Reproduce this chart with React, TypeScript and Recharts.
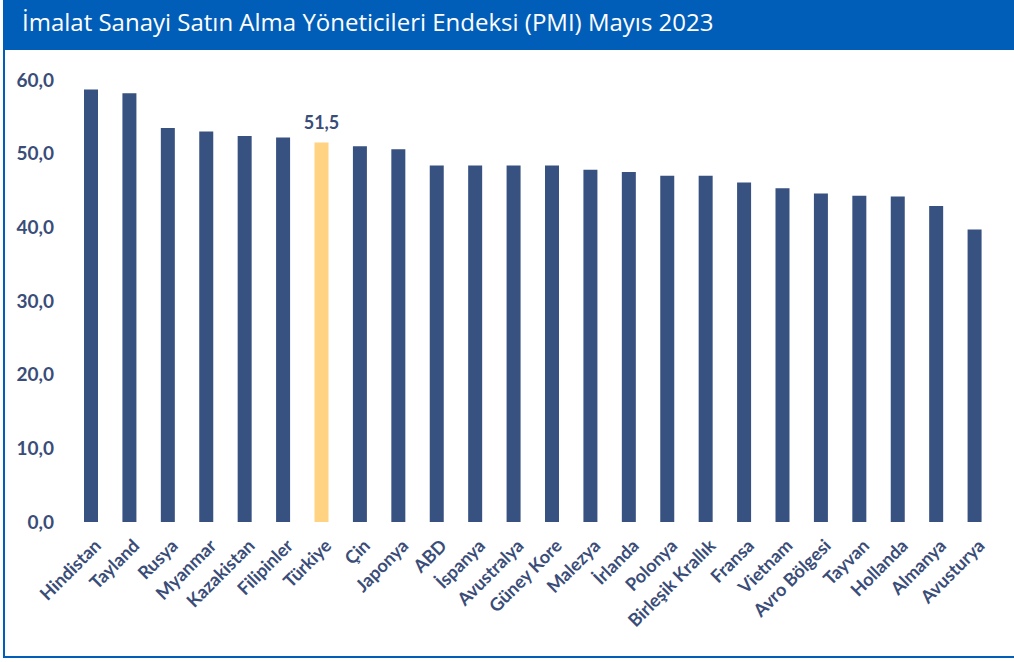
import { BarChart, Bar, XAxis, YAxis, Cell, LabelList } from "recharts";

const countries = [
  "Hindistan", "Tayland", "Rusya", "Myanmar", "Kazakistan", "Filipinler", "Türkiye", "Çin",
  "Japonya", "ABD", "İspanya", "Avustralya", "Güney Kore", "Malezya", "İrlanda", "Polonya",
  "Birleşik Krallık", "Fransa", "Vietnam", "Avro Bölgesi", "Tayvan", "Hollanda", "Almanya", "Avusturya",
];
const pmi = [
  58.7, 58.2, 53.5, 53.0, 52.4, 52.2, 51.5, 51.0,
  50.6, 48.4, 48.4, 48.4, 48.4, 47.8, 47.5, 47.0,
  47.0, 46.1, 45.3, 44.6, 44.3, 44.2, 42.9, 39.7,
];
const yTicks = [0, 10, 20, 30, 40, 50, 60];

const highlight = "Türkiye";
const navy = "#375180";
const gold = "#FFD382";
const textColor = "#3a4d78";

const data = countries.map((name, i) => ({ name, value: pmi[i] }));

const fmt = (v: number) => v.toFixed(1).replace(".", ",");

const CountryTick = (props: any) => {
  const { x, y, payload } = props;
  return (
    <g transform={`translate(${x + 6},${y + 12})`}>
      <text
        transform="rotate(-45)"
        textAnchor="end"
        dominantBaseline="central"
        fill={textColor}
        fontSize={18}
        fontWeight={700}
        fontFamily="Lato, sans-serif"
      >
        {payload.value}
      </text>
    </g>
  );
};

const TurkeyLabel = (props: any) => {
  const { x, y, width, value, index } = props;
  if (countries[index] !== highlight) return null;
  return (
    <text
      x={x + width / 2}
      y={y - 14}
      textAnchor="middle"
      fill={textColor}
      fontSize={18}
      fontWeight={700}
      fontFamily="Lato, sans-serif"
    >
      {fmt(value)}
    </text>
  );
};

export default function App() {
  return (
    <div style={{ position: "absolute", left: 0, top: 0, width: 1014, height: 662, background: "#fff" }}>
      <div
        style={{
          position: "absolute",
          left: 3,
          top: 0,
          width: 1011,
          height: 50,
          background: "#005EB8",
          color: "#fff",
          fontFamily: "'Open Sans', sans-serif",
          fontSize: 24,
          lineHeight: "44px",
          paddingLeft: 19,
          boxSizing: "border-box",
          whiteSpace: "nowrap",
        }}
      >
        İmalat Sanayi Satın Alma Yöneticileri Endeksi (PMI) Mayıs 2023
      </div>
      <div style={{ position: "absolute", left: 3, top: 50, width: 2, height: 608, background: "#005EB8" }} />
      <div style={{ position: "absolute", left: 3, top: 656, width: 1011, height: 2, background: "#005EB8" }} />
      <div style={{ position: "absolute", left: 0, top: 50 }}>
        <BarChart
          width={1010}
          height={605}
          data={data}
          margin={{ top: 30, right: 16, left: 0, bottom: 0 }}
          barSize={14}
        >
          <XAxis
            dataKey="name"
            interval={0}
            axisLine={false}
            tickLine={false}
            height={133}
            tick={<CountryTick />}
          />
          <YAxis
            domain={[0, 60]}
            ticks={yTicks}
            width={72}
            axisLine={false}
            tickLine={false}
            tickSize={0}
            tickMargin={18}
            tickFormatter={fmt}
            tick={{ fill: textColor, fontSize: 19, fontWeight: 700, fontFamily: "Lato, sans-serif" }}
          />
          <Bar dataKey="value" isAnimationActive={false}>
            {data.map((d) => (
              <Cell key={d.name} fill={d.name === highlight ? gold : navy} />
            ))}
            <LabelList dataKey="value" content={<TurkeyLabel />} />
          </Bar>
        </BarChart>
      </div>
    </div>
  );
}
